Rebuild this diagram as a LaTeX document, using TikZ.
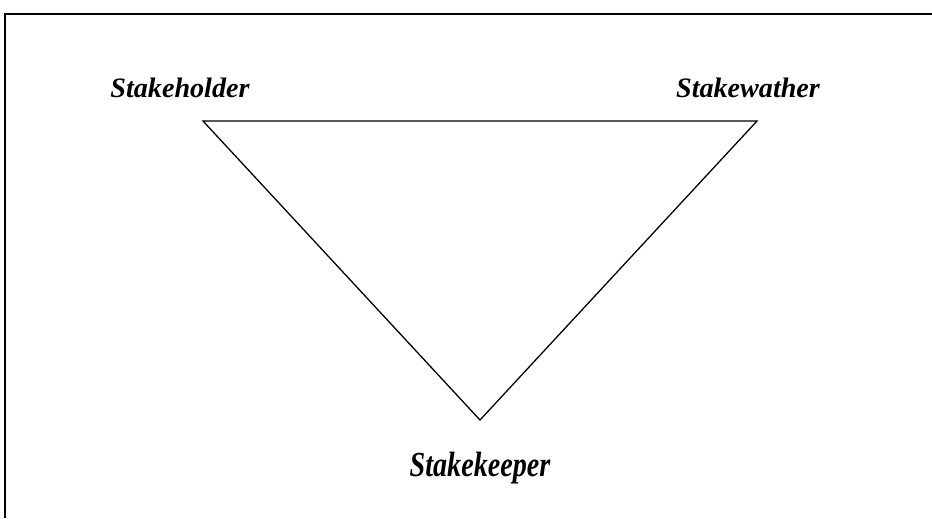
\documentclass[tikz,border=0pt]{standalone}
\usepackage{fontspec}
\setmainfont{Liberation Serif}
\usetikzlibrary{positioning}

\begin{document}
\begin{tikzpicture}[
  x=0.03cm, y=-0.03cm,
  lbl/.style={font=\fontsize{24}{28}\selectfont\bfseries\itshape, inner sep=0pt},
  edge/.style={line width=1.1pt, black}
]
\useasboundingbox (0,0) rectangle (932,518);
%% frame
\draw[line width=1.4pt] (5,518) -- (5,14) -- (940,14);

%% corners
\coordinate (holder) at (203,121);
\coordinate (wather) at (757,121);
\coordinate (keeper) at (480,420);
\draw[edge] (holder) -- (wather) -- (keeper) -- cycle;

%% labels
\node[lbl] (tholder) at (180,88) {Stakeholder};
\node[lbl] (twather) at (748,88) {Stakewather};
\node[lbl, yscale=1.25] (tkeeper) at (480,468) {Stakekeeper};
\end{tikzpicture}
\end{document}
